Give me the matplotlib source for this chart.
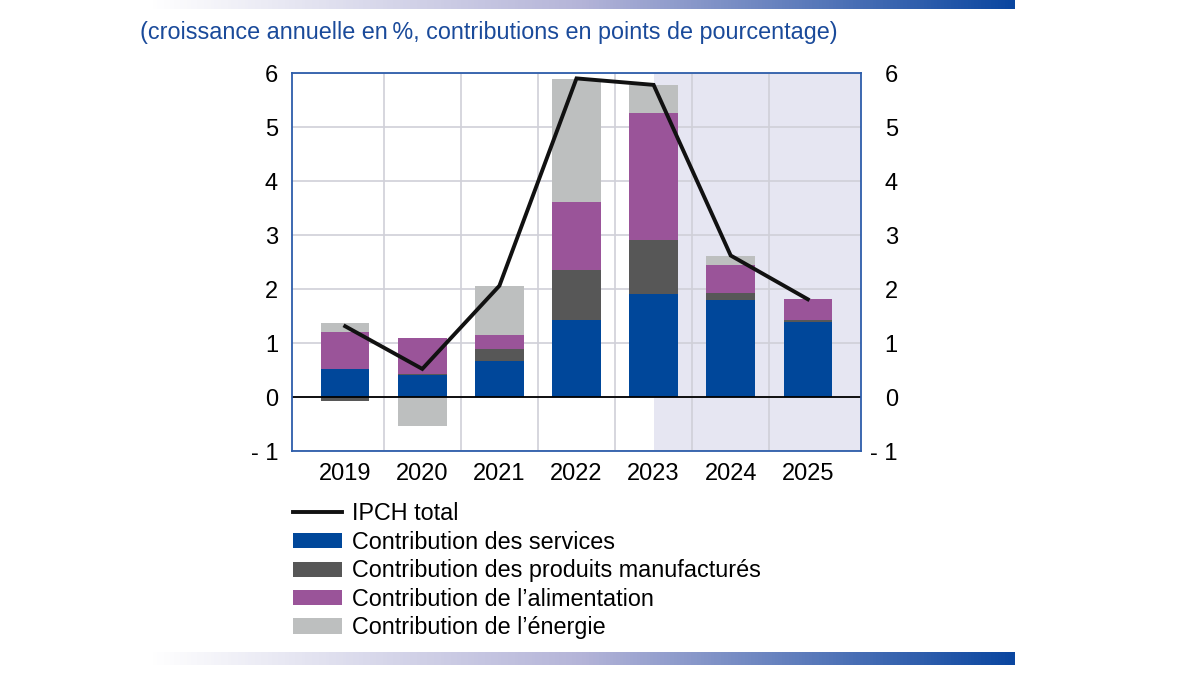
import numpy as np
import matplotlib
matplotlib.use("Agg")
import matplotlib.pyplot as plt
from matplotlib.lines import Line2D
from matplotlib.patches import Patch
from matplotlib.colors import LinearSegmentedColormap

plt.rcParams['font.family'] = ['Liberation Sans', 'DejaVu Sans']

years = ['2019', '2020', '2021', '2022', '2023', '2024', '2025']
services = [0.52, 0.41, 0.67, 1.42, 1.90, 1.79, 1.38]
manufactured = [-0.07, 0.02, 0.21, 0.93, 1.00, 0.14, 0.05]
food = [0.68, 0.66, 0.27, 1.26, 2.36, 0.51, 0.38]
energy = [0.17, -0.54, 0.91, 2.27, 0.52, 0.18, 0.0]
total = [1.31, 0.52, 2.06, 5.90, 5.78, 2.62, 1.81]

labels = ['IPCH total', 'Contribution des services',
          'Contribution des produits manufacturés',
          "Contribution de l\u2019alimentation", "Contribution de l\u2019énergie"]
colors = ['#00479A', '#575757', '#9A5499', '#BDBFBF']
blue_txt = '#1A4A9A'

fig = plt.figure(figsize=(12, 6.75), dpi=100)

# bandes en degrade haut et bas
grad = np.linspace(0, 1, 256).reshape(1, -1)
cmap = LinearSegmentedColormap.from_list('band', ['#FFFFFF', '#B4B4D8', '#0A46A0'])
for y0, h in [(1 - 9 / 675, 9 / 675), (1 - 665 / 675, 13 / 675)]:
    bax = fig.add_axes([150 / 1200, y0, 865 / 1200, h])
    bax.imshow(grad, aspect='auto', cmap=cmap, extent=[0, 1, 0, 1])
    bax.axis('off')

fig.text(140 / 1200, 1 - 32 / 675, '(croissance annuelle en\u2009%, contributions en points de pourcentage)',
         color=blue_txt, fontsize=16.8, va='center', ha='left')

ax = fig.add_axes([292 / 1200, 1 - 451 / 675, 569 / 1200, 378 / 675])
x = np.arange(len(years))
ax.set_xlim(-0.69, len(years) - 1 + 0.69)
ax.set_ylim(-1, 6)

ax.axvspan(4, len(years) - 1 + 0.69, color='#E6E6F2', zorder=0, lw=0)
for yv in range(-1, 7):
    ax.axhline(yv, color='#D0D0D8', lw=1.2, zorder=1)
for xv in x[:-1] + 0.5:
    ax.axvline(xv, color='#D0D0D8', lw=1.2, zorder=1)

pos = np.zeros(len(years))
neg = np.zeros(len(years))
w = 0.63
for series, c in zip([services, manufactured, food, energy], colors):
    v = np.array(series)
    base = np.where(v >= 0, pos, neg)
    ax.bar(x, v, width=w, bottom=base, color=c, zorder=2, lw=0)
    pos = pos + np.where(v >= 0, v, 0)
    neg = neg + np.where(v < 0, v, 0)

ax.axhline(0, color='black', lw=1.3, zorder=3)
ax.plot(x, total, color='#111111', lw=2.8, zorder=4, solid_joinstyle='miter')

yt = list(range(-1, 7))
ylab = ['- 1' if t < 0 else str(t) for t in yt]
ax.set_yticks(yt)
ax.set_yticklabels(ylab)
ax.set_xticks(x)
ax.set_xticklabels(years)
ax.tick_params(axis='both', length=0, labelsize=17, pad=9)
ax.tick_params(axis='y', pad=10)
for s in ax.spines.values():
    s.set_color('#2D5DAA')
    s.set_linewidth(1.3)
    s.set_zorder(5)

# axe de droite, labels alignes a droite
ax2 = ax.twinx()
ax2.set_ylim(-1, 6)
ax2.set_yticks(yt)
ax2.set_yticklabels(ylab)
ax2.tick_params(axis='y', length=0, labelsize=17, pad=26.5)
for lbl in ax2.get_yticklabels():
    lbl.set_horizontalalignment('right')
for s in ax2.spines.values():
    s.set_visible(False)

handles = [Line2D([0], [0], color='#111111', lw=2.8)] + \
          [Patch(facecolor=c, edgecolor='none') for c in colors]
fig.legend(handles, labels, loc='upper left', bbox_to_anchor=(284 / 1200, 1 - 493 / 675),
           frameon=False, fontsize=16.8, handlelength=2.1, handleheight=0.62,
           labelspacing=0.235, handletextpad=0.4, borderaxespad=0)

fig.savefig('out.png', dpi=100)
